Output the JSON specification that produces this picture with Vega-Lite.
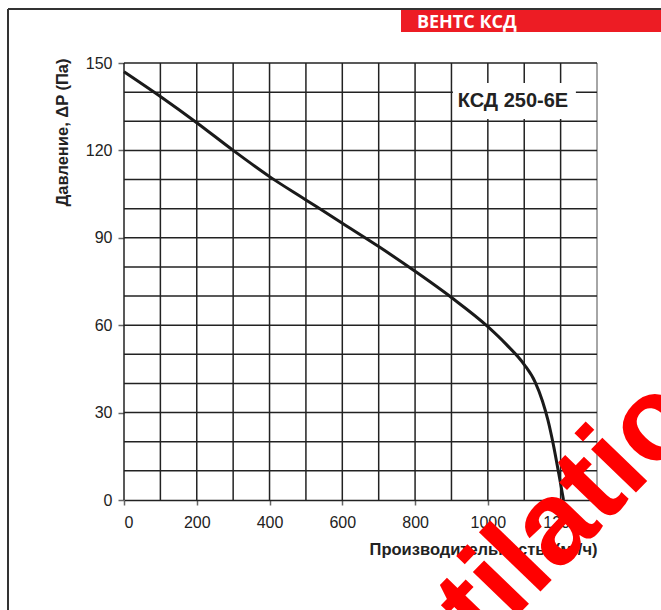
{
  "$schema": "https://vega.github.io/schema/vega-lite/v6.json",
  "width": 473,
  "height": 437,
  "autosize": {"type": "none"},
  "padding": {"left": 124, "top": 63, "right": 64, "bottom": 110},
  "background": "white",
  "config": {"view": {"stroke": null}, "font": "Liberation Sans"},
  "datasets": {
    "curve": [
      {"q": 0, "p": 147}, {"q": 100, "p": 138.5}, {"q": 200, "p": 129.5}, {"q": 300, "p": 120},
      {"q": 400, "p": 111}, {"q": 500, "p": 103}, {"q": 600, "p": 95}, {"q": 700, "p": 87},
      {"q": 800, "p": 78.5}, {"q": 900, "p": 69.5}, {"q": 1000, "p": 59.5}, {"q": 1050, "p": 53.5},
      {"q": 1100, "p": 46.5}, {"q": 1130, "p": 40.5}, {"q": 1150, "p": 34}, {"q": 1165, "p": 27.5},
      {"q": 1180, "p": 19}, {"q": 1195, "p": 9}, {"q": 1208, "p": 0}
    ],
    "vgrid": [
      {"q": 0}, {"q": 100}, {"q": 200}, {"q": 300}, {"q": 400}, {"q": 500}, {"q": 600},
      {"q": 700}, {"q": 800}, {"q": 900}, {"q": 1000}, {"q": 1100}, {"q": 1200}
    ],
    "hgrid": [
      {"p": 10}, {"p": 20}, {"p": 30}, {"p": 40}, {"p": 50}, {"p": 60}, {"p": 70}, {"p": 80},
      {"p": 90}, {"p": 100}, {"p": 110}, {"p": 120}, {"p": 130}, {"p": 140}, {"p": 150}
    ]
  },
  "layer": [
    {
      "data": {"name": "vgrid"},
      "mark": {"type": "rule", "color": "#222", "strokeWidth": 1.5},
      "encoding": {
        "x": {
          "field": "q", "type": "quantitative",
          "scale": {"domain": [0, 1300], "nice": false},
          "axis": {
            "values": [0, 200, 400, 600, 800, 1000, 1200], "format": "d",
            "grid": false, "domain": true, "domainColor": "#222", "domainWidth": 1.5,
            "tickColor": "#666", "tickSize": 5, "tickWidth": 1.5,
            "labelFontSize": 16, "labelColor": "#222", "labelPadding": 9,
            "title": "Производительность, (м³/ч)", "titleFontSize": 16.5, "titleFontWeight": "bold",
            "titleColor": "#222", "titleAnchor": "end", "titlePadding": 11
          }
        }
      }
    },
    {
      "data": {"values": [{"q": 1300}]},
      "mark": {"type": "rule", "color": "#888", "strokeWidth": 1.5},
      "encoding": {"x": {"field": "q", "type": "quantitative"}}
    },
    {
      "data": {"name": "hgrid"},
      "mark": {"type": "rule", "color": "#222", "strokeWidth": 1.5},
      "encoding": {
        "y": {
          "field": "p", "type": "quantitative",
          "scale": {"domain": [0, 150], "nice": false},
          "axis": {
            "values": [0, 30, 60, 90, 120, 150], "format": "d",
            "grid": false, "domain": false,
            "tickColor": "#666", "tickSize": 6, "tickWidth": 1.5,
            "labelFontSize": 16, "labelColor": "#222", "labelPadding": 6,
            "title": "Давление, ΔP (Па)", "titleFontSize": 16.5, "titleFontWeight": "bold",
            "titleColor": "#222", "titleAnchor": "end", "titleY": -5, "titlePadding": 15
          }
        }
      }
    },
    {
      "data": {"values": [{"x1": 904, "x2": 1242, "y1": 130.8, "y2": 143.1}]},
      "mark": {"type": "rect", "color": "white"},
      "encoding": {
        "x": {"field": "x1", "type": "quantitative"},
        "x2": {"field": "x2"},
        "y": {"field": "y1", "type": "quantitative"},
        "y2": {"field": "y2"}
      }
    },
    {
      "data": {"values": [{"q": 1069, "p": 134.8, "label": "КСД 250-6Е"}]},
      "mark": {"type": "text", "font": "Liberation Sans", "fontWeight": "bold", "fontSize": 20, "color": "#222", "align": "center", "baseline": "alphabetic"},
      "encoding": {
        "x": {"field": "q", "type": "quantitative"},
        "y": {"field": "p", "type": "quantitative"},
        "text": {"field": "label"}
      }
    },
    {
      "data": {"name": "curve"},
      "mark": {"type": "line", "color": "#1a1a1a", "strokeWidth": 3, "interpolate": "monotone"},
      "encoding": {
        "x": {"field": "q", "type": "quantitative"},
        "y": {"field": "p", "type": "quantitative"}
      }
    },
    {
      "data": {"values": [{"x1": -318.8, "x2": 1500, "y1": 168.5, "y2": 168.5}, {"x1": -318.8, "x2": -318.8, "y1": 168.5, "y2": -60}]},
      "mark": {"type": "rule", "color": "#333", "strokeWidth": 2},
      "encoding": {
        "x": {"field": "x1", "type": "quantitative"},
        "x2": {"field": "x2"},
        "y": {"field": "y1", "type": "quantitative"},
        "y2": {"field": "y2"}
      }
    },
    {
      "data": {"values": [{"x1": 761.3, "x2": 1500, "y1": 160.6, "y2": 168.2}]},
      "mark": {"type": "rect", "color": "#ed1c24"},
      "encoding": {
        "x": {"field": "x1", "type": "quantitative"},
        "x2": {"field": "x2"},
        "y": {"field": "y1", "type": "quantitative"},
        "y2": {"field": "y2"}
      }
    },
    {
      "data": {"values": [{"q": 805, "p": 162.0, "label": "ВЕНТС КСД"}]},
      "mark": {"type": "text", "font": "Open Sans", "fontWeight": "bold", "fontSize": 18, "color": "white", "align": "left", "baseline": "alphabetic"},
      "encoding": {
        "x": {"field": "q", "type": "quantitative"},
        "y": {"field": "p", "type": "quantitative"},
        "text": {"field": "label"}
      }
    },
    {
      "data": {"values": [{"q": 603, "p": -101.5, "label": "ventilation"}]},
      "mark": {"type": "text", "font": "Liberation Sans", "fontWeight": "bold", "fontSize": 118, "color": "#ff0000", "align": "left", "baseline": "alphabetic", "angle": -46},
      "encoding": {
        "x": {"field": "q", "type": "quantitative"},
        "y": {"field": "p", "type": "quantitative"},
        "text": {"field": "label"}
      }
    }
  ]
}
